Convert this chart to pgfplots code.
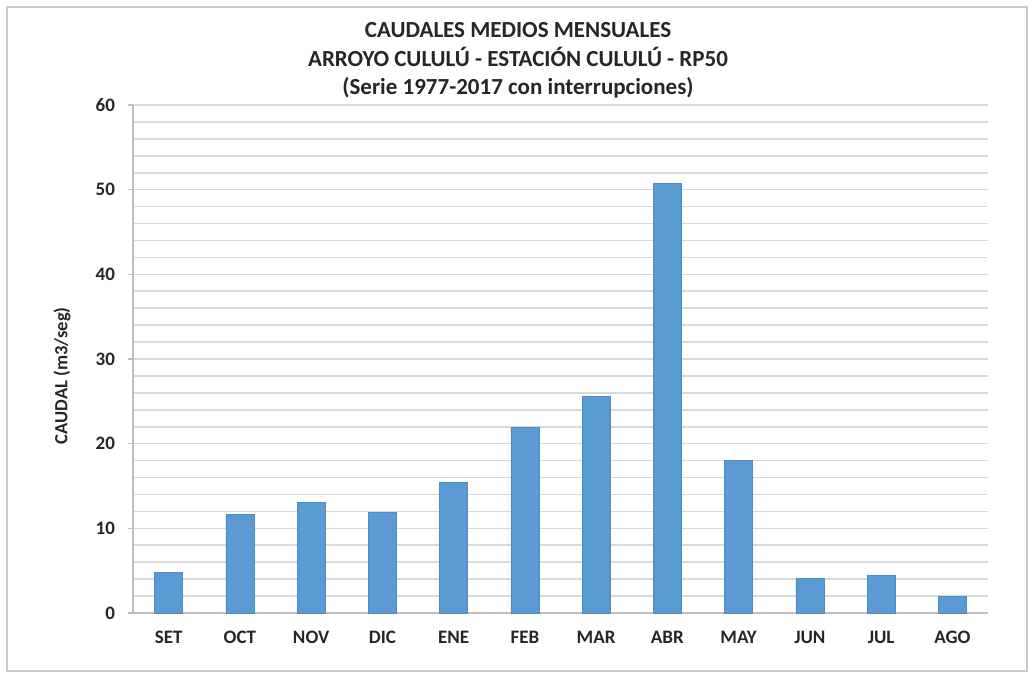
\documentclass[border=0pt]{standalone}
\usepackage{fontspec}
\setmainfont{Carlito}
\usepackage{pgfplots}
\pgfplotsset{compat=1.18}
\definecolor{barblue}{HTML}{5B9BD5}
\definecolor{gridgray}{HTML}{D9D9D9}
\definecolor{axisgray}{HTML}{BFBFBF}
\definecolor{framegray}{HTML}{C8C8C8}
\definecolor{txt}{HTML}{262626}
\begin{document}
\begin{tikzpicture}
% page and frame (1 px = 0.5 pt)
\path[use as bounding box] (0,0) rectangle (514.5pt,-337.5pt);
\draw[framegray, line width=1pt] (3.5pt,-3.5pt) rectangle (513.5pt,-335.5pt);
\node[font=\fontsize{11.5}{13}\selectfont\bfseries, text=txt] at (259pt,-15pt) {CAUDALES MEDIOS MENSUALES};
\node[font=\fontsize{11.5}{13}\selectfont\bfseries, text=txt] at (259pt,-28.5pt) {ARROYO CULULÚ - ESTACIÓN CULULÚ - RP50};
\node[font=\fontsize{11.5}{13}\selectfont\bfseries, text=txt] at (259pt,-44pt) {(Serie 1977-2017 con interrupciones)};
\begin{axis}[
  at={(66.5pt,-306.5pt)}, anchor=south west,
  scale only axis, width=427.5pt, height=254pt,
  xmin=-0.5, xmax=11.5, ymin=0, ymax=60,
  axis x line*=bottom, axis y line*=left,
  axis line style={axisgray, line width=0.8pt},
  xtick={0,...,11},
  xticklabels={SET,OCT,NOV,DIC,ENE,FEB,MAR,ABR,MAY,JUN,JUL,AGO},
  x tick style={draw=none},
  extra x ticks={-0.5,0.5,...,11.5},
  extra x tick labels={},
  extra x tick style={tick style={draw=axisgray, line width=0.6pt}, major tick length=3.5pt, tick align=outside},
  ytick={0,10,...,60},
  minor ytick={2,4,6,8,12,14,16,18,22,24,26,28,32,34,36,38,42,44,46,48,52,54,56,58},
  ymajorgrids, yminorgrids,
  major grid style={gridgray, line width=0.8pt},
  minor grid style={gridgray, line width=0.8pt},
  y tick style={draw=axisgray, line width=0.6pt},
  major tick length=2.5pt, minor tick length=0pt, tick align=outside,
  tick label style={font=\fontsize{9.5}{11}\selectfont\bfseries, text=txt},
  /pgf/number format/assume math mode=true,
  yticklabel style={xshift=-3pt},
  xticklabel style={yshift=-3pt},
  ylabel={CAUDAL (m3/seg)},
  ylabel style={font=\fontsize{9.3}{11}\selectfont\bfseries, text=txt, at={(axis description cs:-0.083,0.467)}, anchor=center},
  ybar, bar width=14pt,
  clip=false,
]
\addplot[fill=barblue, draw=barblue!90!black, line width=0.3pt] coordinates {
(0,4.8) (1,11.6) (2,13.1) (3,11.9) (4,15.4) (5,21.95) (6,25.6) (7,50.75) (8,18.0) (9,4.05) (10,4.4) (11,2.0)
};
\end{axis}
\end{tikzpicture}
\end{document}
